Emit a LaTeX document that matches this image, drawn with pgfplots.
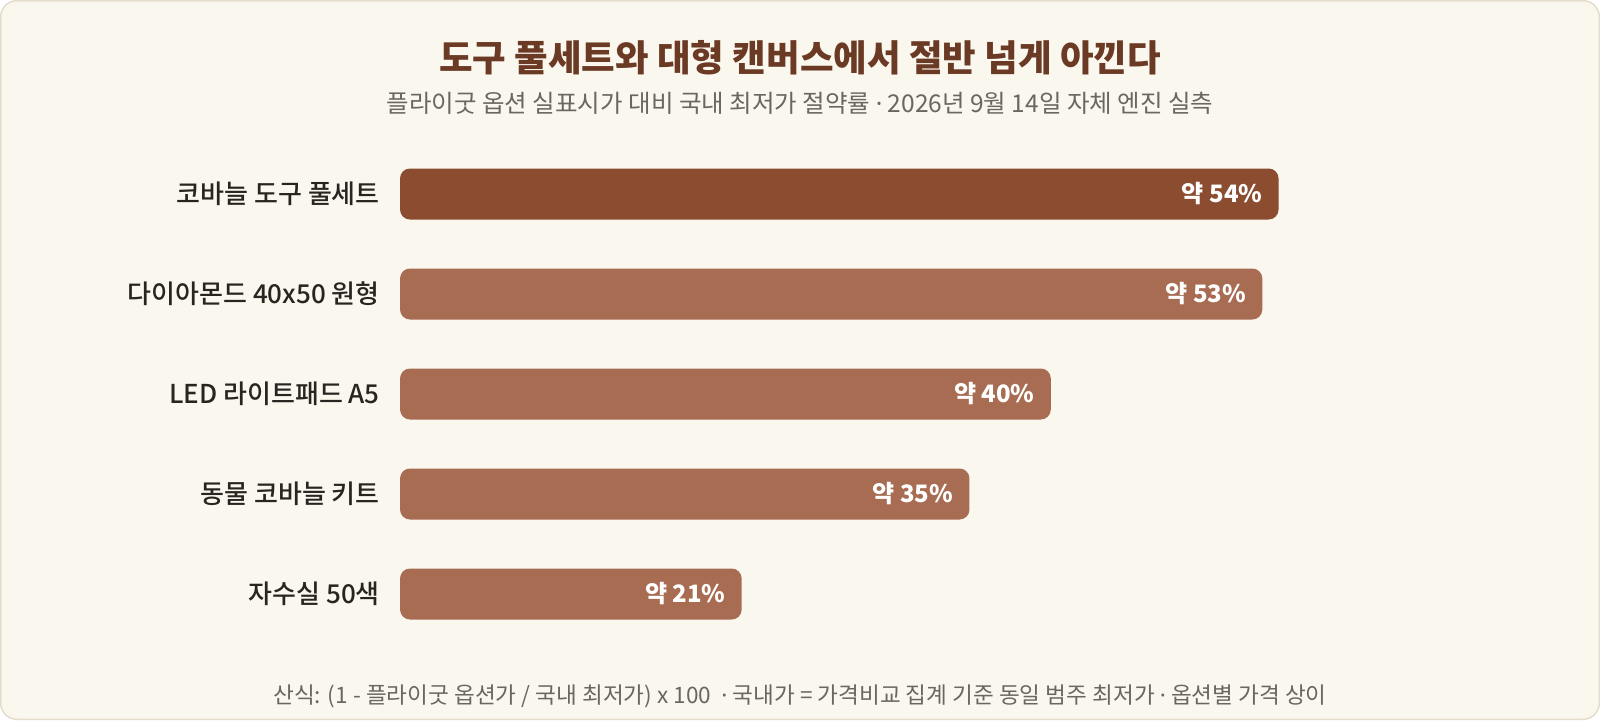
\documentclass[border=0pt]{standalone}
\usepackage{fontspec}
\setmainfont{Noto Sans CJK KR}
\newfontfamily\medium{Noto Sans CJK KR Medium}
\newfontfamily\latin{Noto Sans}
\newcommand\pdot{{\latin ·}}
\usepackage{pgfplots}
\pgfplotsset{compat=1.18}

\definecolor{cardbg}{HTML}{FAF7EF}
\definecolor{cardline}{HTML}{E4DDCB}
\definecolor{titlecol}{HTML}{6B3A24}
\definecolor{subcol}{HTML}{6B6660}
\definecolor{labelcol}{HTML}{2A2420}
\definecolor{barmain}{HTML}{8B4C30}
\definecolor{barrest}{HTML}{A86C53}

\begin{document}
\begin{tikzpicture}
% card
\fill[white] (0pt,0pt) rectangle (1600pt,-720pt);
\draw[line width=1.5pt, draw=cardline, fill=cardbg, rounded corners=16pt]
  (0.75pt,-0.75pt) rectangle (1599.25pt,-719.25pt);

\node[font=\fontsize{36.5}{42}\selectfont\bfseries, text=titlecol] at (800pt,-58pt)
  {도구 풀세트와 대형 캔버스에서 절반 넘게 아낀다};
\node[font=\fontsize{24.5}{28}\selectfont, text=subcol] at (800pt,-103pt)
  {플라이굿 옵션 실표시가 대비 국내 최저가 절약률 \pdot{} 2026년 9월 14일 자체 엔진 실측};
\node[font=\fontsize{22.6}{26}\selectfont, text=subcol] at (800pt,-696pt)
  {산식: (1 - 플라이굿 옵션가 / 국내 최저가) x 100\ \ \pdot\ 국내가 = 가격비교 집계 기준 동일 범주 최저가\ \pdot\ 옵션별 가격 상이};

\begin{axis}[
    at={(400pt,-144pt)}, anchor=north west,
    xbar, bar shift=0pt, bar width=51pt,
    x=16.27pt, y=100pt, y dir=reverse,
    xmin=0, xmax=70, ymin=-0.5, ymax=4.5,
    axis line style={draw=none},
    major tick length=0pt,
    xtick=\empty,
    ytick={0,1,2,3,4},
    yticklabels={코바늘 도구 풀세트, 다이아몬드 40x50 원형, LED 라이트패드 A5, 동물 코바늘 키트, 자수실 50색},
    yticklabel style={anchor=east, inner sep=0pt, xshift=-20pt,
        font=\medium\fontsize{26}{30}\selectfont, text=labelcol},
    clip=false,
    nodes near coords={약 \pgfmathprintnumber[assume math mode=true]{\pgfplotspointmeta}\%},
    every node near coord/.append style={anchor=east, inner ysep=0pt, inner xsep=16pt,
        font=\bfseries\fontsize{24}{28}\selectfont, text=white},
]
\addplot[fill=barmain, draw=none, rounded corners=10pt] coordinates {(54,0)};
\addplot[fill=barrest, draw=none, rounded corners=10pt] coordinates {(53,1) (40,2) (35,3) (21,4)};
\end{axis}
\end{tikzpicture}
\end{document}
